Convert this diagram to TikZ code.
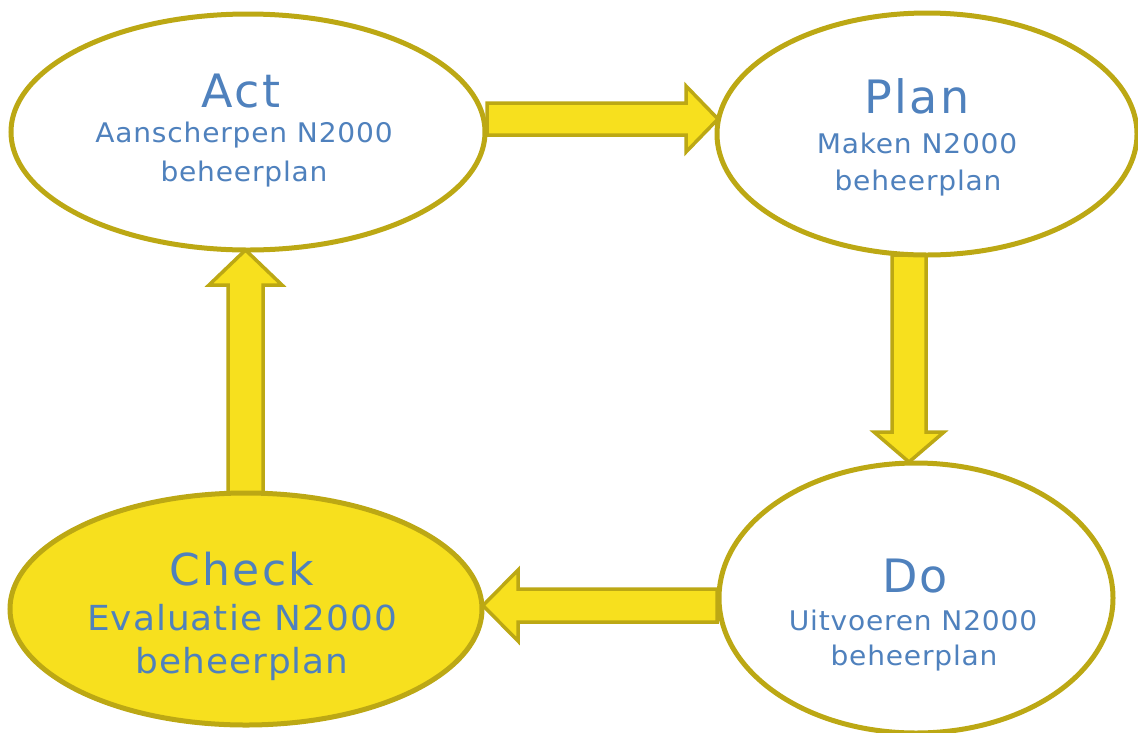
\documentclass[tikz,border=0pt]{standalone}
\usepackage{fontspec}
\usetikzlibrary{shapes.geometric}
\newfontfamily\titlefont[LetterSpace=5]{DejaVu Sans}
\newfontfamily\subfont[LetterSpace=3,FakeStretch=1.04]{DejaVu Sans}
\definecolor{fillyel}{RGB}{247,224,30}
\definecolor{olive}{RGB}{188,168,20}
\definecolor{txtblue}{RGB}{79,129,189}
\tikzset{
  ell/.style={ellipse, draw=olive, line width=5pt, inner sep=0pt, fill=white},
  ellfill/.style={ell, fill=fillyel},
  blockarrow/.style={draw=olive, fill=fillyel, line width=3.5pt, line join=miter},
  ttl/.style={anchor=base, inner sep=0pt, text=txtblue, font=\titlefont\fontsize{46}{46}\selectfont},
  ttlbig/.style={ttl, font=\titlefont\fontsize{44}{44}\selectfont},
  sub/.style={anchor=base, inner sep=0pt, text=txtblue, font=\subfont\fontsize{27}{27}\selectfont},
  subbig/.style={sub, font=\subfont\fontsize{34.5}{34.5}\selectfont}
}
\begin{document}
\begin{tikzpicture}[x=1pt,y=-1pt]
\useasboundingbox (0,0) rectangle (1138,732);
% block arrows
\draw[blockarrow] (487,103) -- (686,103) -- (686,86) -- (718,119) -- (686,152) -- (686,135) -- (487,135) -- cycle;
\draw[blockarrow] (892,255) -- (892,432) -- (874,432) -- (909,462) -- (944,432) -- (926,432) -- (926,255) -- cycle;
\draw[blockarrow] (717,589) -- (518,589) -- (518,570) -- (483,605.5) -- (518,641) -- (518,622) -- (717,622) -- cycle;
\draw[blockarrow] (228,500) -- (228,285) -- (209,285) -- (245.5,250) -- (282,285) -- (263,285) -- (263,500) -- cycle;
% ellipses
\node[ell, minimum width=474pt, minimum height=236pt] (act) at (248,132) {};
\node[ell, minimum width=420pt, minimum height=242pt] (plan) at (927,134) {};
\node[ell, minimum width=394pt, minimum height=270pt] (do) at (916,598) {};
\node[ellfill, minimum width=472pt, minimum height=232pt] (check) at (246,609) {};
% texts
\node[ttl] (actT) at (241,107) {Act};
\node[sub] (actS1) at (244,142) {Aanscherpen N2000};
\node[sub] (actS2) at (244,181) {beheerplan};
\node[ttl] (planT) at (917,113) {Plan};
\node[sub] (planS1) at (917,153) {Maken N2000};
\node[sub] (planS2) at (918,190) {beheerplan};
\node[ttl] (doT) at (915,592) {Do};
\node[sub] (doS1) at (913,630) {Uitvoeren N2000};
\node[sub] (doS2) at (914,665) {beheerplan};
\node[ttlbig] (checkT) at (242,585) {Check};
\node[subbig] (checkS1) at (242,630) {Evaluatie N2000};
\node[subbig] (checkS2) at (242,673) {beheerplan};
\end{tikzpicture}
\end{document}
